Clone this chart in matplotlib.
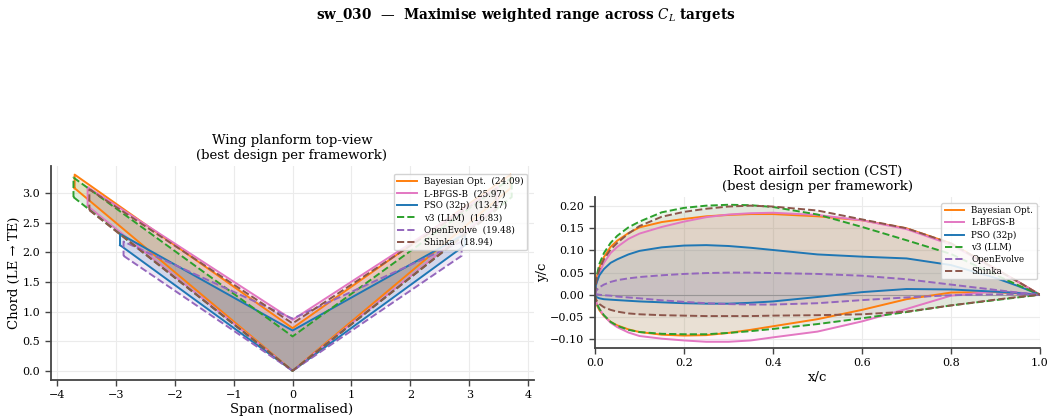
import matplotlib
matplotlib.use("Agg")
import matplotlib.pyplot as plt
import numpy as np

plt.rcParams['font.family'] = ['DejaVu Serif']
plt.rcParams['mathtext.fontset'] = 'dejavuserif'

# ---------------- data ----------------
frameworks = ["Bayesian Opt.", "L-BFGS-B", "PSO (32p)", "v3 (LLM)", "OpenEvolve", "Shinka"]
scores = [24.09, 25.97, 13.47, 16.83, 19.48, 18.94]
colors = ["#ff7f0e", "#e377c2", "#1f77b4", "#2ca02c", "#9467bd", "#8c564b"]
styles = ["-", "-", "-", "--", "--", "--"]

# planform: semi-span, root chord, tip leading-edge offset, tip trailing-edge position
semi_span = [3.70, 3.48, 2.93, 3.72, 2.87, 3.45]
root_chord = [0.72, 0.86, 0.68, 0.58, 0.88, 0.80]
tip_le = [3.08, 2.78, 2.12, 2.93, 1.94, 2.71]
tip_te = [3.31, 3.10, 2.31, 3.26, 2.18, 3.06]

# root airfoil section
x_c = [0, 0.002, 0.005, 0.01, 0.02, 0.035, 0.05, 0.075, 0.1, 0.15, 0.2, 0.25,
       0.3, 0.35, 0.4, 0.5, 0.6, 0.7, 0.8, 0.9, 0.95, 1.0]
upper_bo = [0, 0.028, 0.044, 0.062, 0.085, 0.108, 0.122, 0.139, 0.152, 0.164, 0.171, 0.177,
            0.180, 0.182, 0.182, 0.177, 0.168, 0.150, 0.116, 0.059, 0.030, 0]
lower_bo = [0, -0.016, -0.025, -0.035, -0.048, -0.061, -0.069, -0.078, -0.084, -0.090, -0.092, -0.091,
            -0.086, -0.079, -0.071, -0.055, -0.034, -0.010, 0.005, 0.006, 0.003, 0]
upper_lb = [0, 0.020, 0.032, 0.050, 0.072, 0.094, 0.108, 0.126, 0.138, 0.153, 0.165, 0.175,
            0.181, 0.184, 0.185, 0.180, 0.168, 0.148, 0.113, 0.058, 0.030, 0]
lower_lb = [0, -0.014, -0.022, -0.032, -0.047, -0.063, -0.073, -0.085, -0.093, -0.099, -0.103, -0.106,
            -0.106, -0.103, -0.096, -0.083, -0.060, -0.032, -0.002, 0.008, 0.005, 0]
upper_pso = [0, 0.022, 0.031, 0.044, 0.058, 0.072, 0.080, 0.091, 0.099, 0.107, 0.111, 0.112,
             0.110, 0.106, 0.101, 0.091, 0.086, 0.082, 0.067, 0.038, 0.020, 0]
lower_pso = [0, -0.004, -0.006, -0.008, -0.010, -0.011, -0.012, -0.0135, -0.015, -0.017, -0.019, -0.020,
             -0.020, -0.018, -0.015, -0.005, 0.006, 0.013, 0.012, 0.007, 0.004, 0]
upper_v3 = [0, 0.030, 0.048, 0.070, 0.094, 0.117, 0.133, 0.152, 0.165, 0.186, 0.196, 0.201,
            0.203, 0.202, 0.198, 0.181, 0.153, 0.123, 0.092, 0.045, 0.022, 0]
lower_v3 = [0, -0.014, -0.022, -0.032, -0.046, -0.061, -0.070, -0.079, -0.084, -0.088, -0.089, -0.089,
            -0.086, -0.082, -0.077, -0.066, -0.053, -0.039, -0.024, -0.012, -0.006, 0]
upper_oe = [0, 0.008, 0.012, 0.017, 0.023, 0.029, 0.033, 0.037, 0.040, 0.044, 0.047, 0.049,
            0.050, 0.050, 0.049, 0.047, 0.043, 0.035, 0.023, 0.011, 0.005, 0]
lower_oe = [0, 0.001, 0.001, 0.0, -0.001, -0.002, -0.004, -0.006, -0.008, -0.0125, -0.016, -0.019,
            -0.021, -0.022, -0.022, -0.019, -0.012, -0.006, -0.001, 0.001, 0.001, 0]
upper_sh = [0, 0.025, 0.040, 0.058, 0.080, 0.102, 0.117, 0.138, 0.155, 0.176, 0.187, 0.194,
            0.199, 0.201, 0.199, 0.190, 0.170, 0.150, 0.116, 0.058, 0.030, 0]
lower_sh = [0, -0.010, -0.015, -0.021, -0.028, -0.034, -0.038, -0.042, -0.044, -0.046, -0.047, -0.048,
            -0.048, -0.048, -0.047, -0.046, -0.044, -0.038, -0.024, -0.011, -0.005, 0]

uppers = [upper_bo, upper_lb, upper_pso, upper_v3, upper_oe, upper_sh]
lowers = [lower_bo, lower_lb, lower_pso, lower_v3, lower_oe, lower_sh]

# ---------------- figure ----------------
fig = plt.figure(figsize=(10.51, 4.19), dpi=100)
ax1 = fig.add_axes([50.5 / 1051, 1 - 380 / 419, 483 / 1051, 214 / 419])
ax2 = fig.add_axes([595 / 1051, 1 - 348 / 419, 445 / 1051, 151 / 419])

spine_col = "#444444"
for ax in (ax1, ax2):
    ax.grid(True, color="#ebebeb", lw=0.8)
    ax.set_axisbelow(True)
    for s in ("top", "right"):
        ax.spines[s].set_visible(False)
    for s in ("left", "bottom"):
        ax.spines[s].set_color(spine_col)
        ax.spines[s].set_linewidth(1.3)
    ax.tick_params(labelsize=8, color=spine_col, length=4, width=1.0, direction="out")

# planform
for name, sc, c, ls, b, cr, le, te in zip(frameworks, scores, colors, styles,
                                          semi_span, root_chord, tip_le, tip_te):
    xs = [-b, 0, b, b, 0, -b, -b]
    ys = [le, 0, le, te, cr, te, le]
    ax1.fill(xs, ys, color=c, alpha=0.15, lw=0)
    ax1.plot(xs, ys, color=c, ls=ls, lw=1.4, label=f"{name}  ({sc:.2f})")
ax1.set_xlim(-4.11, 4.09)
ax1.set_ylim(-0.155, 3.455)
ax1.set_xticks(np.arange(-4, 5, 1))
ax1.set_yticks(np.arange(0, 3.01, 0.5))
ax1.set_xlabel("Span (normalised)", fontsize=9.5, labelpad=2)
ax1.set_ylabel("Chord (LE → TE)", fontsize=9.5, labelpad=1)
ax1.set_title("Wing planform top-view\n(best design per framework)", fontsize=9.5, pad=5)
ax1.legend(loc="upper right", fontsize=6.3, frameon=True, framealpha=0.85,
           edgecolor="#cccccc", borderpad=0.4, labelspacing=0.35, handlelength=2.2,
           bbox_to_anchor=(0.995, 0.985))

# airfoil
ax2.axhline(0, color="gray", lw=0.8, alpha=0.6)
for name, c, ls, yu, yl in zip(frameworks, colors, styles, uppers, lowers):
    ax2.fill_between(x_c, yl, yu, color=c, alpha=0.09, lw=0)
    ax2.plot(x_c, yu, color=c, ls=ls, lw=1.4, label=name)
    ax2.plot(x_c, yl, color=c, ls=ls, lw=1.4)
ax2.set_xlim(0, 1)
ax2.set_ylim(-0.12, 0.2205)
ax2.set_xticks(np.arange(0, 1.01, 0.2))
ax2.set_yticks(np.arange(-0.10, 0.201, 0.05))
ax2.set_xlabel("x/c", fontsize=9.5, labelpad=2)
ax2.set_ylabel("y/c", fontsize=9.5, labelpad=1)
ax2.set_title("Root airfoil section (CST)\n(best design per framework)", fontsize=9.5, pad=5)
ax2.legend(loc="upper right", fontsize=6.3, frameon=True, framealpha=0.85,
           edgecolor="#cccccc", borderpad=0.4, labelspacing=0.35, handlelength=2.2,
           bbox_to_anchor=(1.002, 0.99))

fig.suptitle(r"sw_030  —  Maximise weighted range across $C_L$ targets",
             fontsize=9.8, fontweight="bold", y=0.985)

fig.savefig("out.png", dpi=100)
